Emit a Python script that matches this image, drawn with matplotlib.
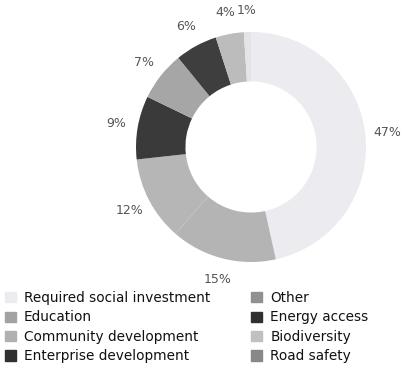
import numpy as np
import matplotlib.pyplot as plt

# donut de investimento
categorias = ['Required social investment', 'Education', 'Community development',
              'Enterprise development', 'Other', 'Energy access', 'Biodiversity', 'Road safety']
valores = [47, 15, 12, 9, 7, 6, 4, 1]
rotulos = ['47%', '15%', '12%', '9%', '7%', '6%', '4%', '1%']
cores = ['#ececf0', '#b4b4b4', '#b6b6b6', '#3a3a3a', '#a6a6a6', '#3e3e3e', '#bcbcbc', '#e4e4e4']

fig = plt.figure(figsize=(4.07, 3.70), dpi=100)
cx, cy, R = 251, 147, 115
ax = fig.add_axes([(cx - R * 1.3) / 407, 1 - (cy + R * 1.3) / 370,
                   2 * R * 1.3 / 407, 2 * R * 1.3 / 370])

wedges, _ = ax.pie(valores, colors=cores, startangle=90, counterclock=False,
                   radius=1 / 1.3, wedgeprops=dict(width=0.43 / 1.3, edgecolor='none'))

# rotulos em volta
for w, r in zip(wedges, rotulos):
    ang = np.deg2rad((w.theta1 + w.theta2) / 2)
    rr = 1.19 / 1.3
    ax.text(rr * np.cos(ang), rr * np.sin(ang), r, ha='center', va='center',
            fontsize=9, color='#555555')
ax.set_xlim(-1, 1)
ax.set_ylim(-1, 1)
ax.set_aspect('equal')
ax.axis('off')

# legenda com cores um pouco diferentes
leg_cores = ['#ececf0', '#a2a2a2', '#b0b0b0', '#303030', '#909090', '#303030', '#c0c0c0', '#888888']
handles = [plt.Rectangle((0, 0), 1, 1, color=c) for c in leg_cores]
leg = fig.legend(handles, categorias, ncol=2, loc='upper left',
                 bbox_to_anchor=(5 / 407, 1 - 291 / 370), frameon=False,
                 fontsize=9.8, handlelength=0.8, handleheight=0.8,
                 handletextpad=0.6, columnspacing=3.0, labelspacing=0.4,
                 borderaxespad=0.0, borderpad=0.0)
for t in leg.get_texts():
    t.set_color('#111111')

plt.savefig('out.png', dpi=100)
